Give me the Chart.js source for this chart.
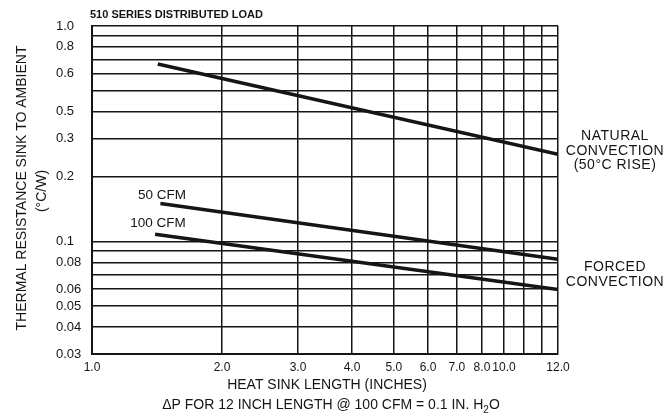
<!DOCTYPE html>
<html>
<head>
<meta charset="utf-8">
<script src="https://cdn.jsdelivr.net/npm/chart.js@4"></script>
<style>
  html, body { margin: 0; padding: 0; background: #fff; }
</style>
</head>
<body>
<canvas id="thermalChart" width="665" height="420"></canvas>
<script>
// --- data (log-log) ---
const naturalLength = [1.42, 12];
const naturalRes = [0.666, 0.254];
const cfm50Length = [1.44, 12];
const cfm50Res = [0.150, 0.0825];
const cfm100Length = [1.40, 12];
const cfm100Res = [0.108, 0.0598];

// tick positions and the labels printed on the original sheet
const xTicks = [1, 2, 3, 4, 5, 6, 7, 8, 9, 10, 11, 12];
const xLabels = ["1.0", "2.0", "3.0", "4.0", "5.0", "6.0", "7.0", "8.0", "10.0", "", "", "12.0"];
const yTicks = [0.03, 0.04, 0.05, 0.06, 0.07, 0.08, 0.09, 0.1, 0.2, 0.3, 0.4, 0.5, 0.6, 0.7, 0.8, 0.9, 1.0];
const yLabels = ["0.03", "0.04", "0.05", "0.06", "", "0.08", "", "0.1", "0.2", "0.3", "0.5", "", "0.6", "", "0.8", "", "1.0"];

const INK = "#151515";
const FONT = "'Liberation Sans', Arial, sans-serif";

function toPoints(xs, ys) {
  return xs.map((x, i) => ({ x: x, y: ys[i] }));
}

function lineSet(xs, ys) {
  return {
    data: toPoints(xs, ys),
    showLine: true,
    borderColor: INK,
    borderWidth: 3.5,
    pointRadius: 0,
    fill: false,
  };
}

// text that sits around the plot
const labelsPlugin = {
  id: "labels",
  afterDraw(chart) {
    const ctx = chart.ctx;
    ctx.save();
    ctx.fillStyle = INK;
    ctx.textBaseline = "middle";

    ctx.font = "bold 11px " + FONT;
    ctx.textAlign = "left";
    ctx.fillText("510 SERIES DISTRIBUTED LOAD", 90, 15);

    ctx.font = "14px " + FONT;
    ctx.textAlign = "center";
    ctx.save();
    ctx.translate(22, 188);
    ctx.rotate(-Math.PI / 2);
    ctx.fillText("THERMAL RESISTANCE SINK TO AMBIENT", 0, 0);
    ctx.restore();
    ctx.save();
    ctx.translate(42, 191);
    ctx.rotate(-Math.PI / 2);
    ctx.fillText("(°C/W)", 0, 0);
    ctx.restore();

    ctx.fillText("HEAT SINK LENGTH (INCHES)", 327, 385);

    // bottom note with subscript
    const a = "ΔP FOR 12 INCH LENGTH @ 100 CFM = 0.1 IN. H";
    const b = "2";
    const c = "O";
    ctx.font = "14px " + FONT;
    const wa = ctx.measureText(a).width;
    const wc = ctx.measureText(c).width;
    ctx.font = "10px " + FONT;
    const wb = ctx.measureText(b).width;
    let x0 = 331 - (wa + wb + wc) / 2;
    ctx.textAlign = "left";
    ctx.font = "14px " + FONT;
    ctx.fillText(a, x0, 405);
    ctx.font = "10px " + FONT;
    ctx.fillText(b, x0 + wa, 410);
    ctx.font = "14px " + FONT;
    ctx.fillText(c, x0 + wa + wb, 405);

    // line labels
    ctx.font = "13.5px " + FONT;
    ctx.textAlign = "center";
    ctx.fillText("50 CFM", 162, 195);
    ctx.fillText("100 CFM", 158, 223);

    // right side notes
    ctx.font = "14px " + FONT;
    ctx.letterSpacing = "0.5px";
    ctx.fillText("NATURAL", 615, 136);
    ctx.fillText("CONVECTION", 615, 151);
    ctx.fillText("(50°C RISE)", 615, 165);
    ctx.fillText("FORCED", 615, 267);
    ctx.fillText("CONVECTION", 615, 282);
    ctx.restore();
  },
};

new Chart(document.getElementById("thermalChart").getContext("2d"), {
  type: "scatter",
  data: {
    datasets: [
      lineSet(naturalLength, naturalRes),
      lineSet(cfm50Length, cfm50Res),
      lineSet(cfm100Length, cfm100Res),
    ],
  },
  options: {
    responsive: false,
    animation: false,
    layout: { padding: { left: 56, right: 107, top: 26, bottom: 0 } },
    plugins: {
      legend: { display: false },
      tooltip: { enabled: false },
    },
    scales: {
      x: {
        type: "logarithmic",
        min: 1,
        max: 12,
        afterBuildTicks: (s) => { s.ticks = xTicks.map((v) => ({ value: v })); },
        afterFit: (s) => { s.height = 66; },
        ticks: {
          autoSkip: false,
          maxRotation: 0,
          padding: 6,
          color: INK,
          font: { family: FONT, size: 12 },
          callback: (v, i) => xLabels[i],
        },
        grid: { color: INK, lineWidth: 1.5, drawTicks: false },
        border: { color: INK, width: 2 },
      },
      y: {
        type: "logarithmic",
        min: 0.03,
        max: 1.0,
        afterBuildTicks: (s) => { s.ticks = yTicks.map((v) => ({ value: v })); },
        afterFit: (s) => { s.width = 36; },
        ticks: {
          autoSkip: false,
          crossAlign: "far",
          padding: 4,
          color: INK,
          font: { family: FONT, size: 13 },
          callback: (v, i) => yLabels[i],
        },
        grid: { color: INK, lineWidth: 1.5, drawTicks: false },
        border: { color: INK, width: 2 },
      },
    },
  },
  plugins: [labelsPlugin],
});
</script>
</body>
</html>
